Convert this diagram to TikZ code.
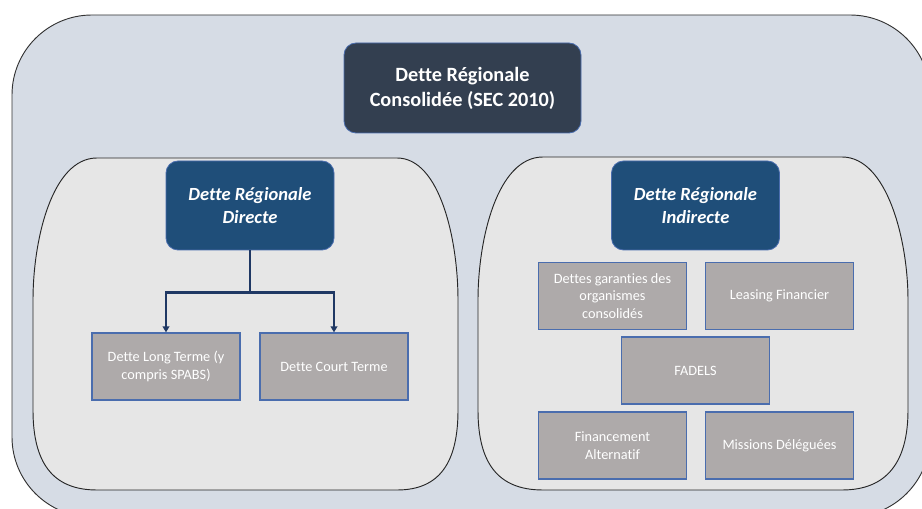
\documentclass[tikz,border=0pt]{standalone}
\usepackage{fontspec}
\setmainfont[Ligatures=NoCommon]{Carlito}
\usepackage{xcolor}
\usetikzlibrary{arrows.meta}

\definecolor{outerFill}{HTML}{D6DCE5}
\definecolor{panelFill}{HTML}{E6E6E6}
\definecolor{slate}{HTML}{333F50}
\definecolor{navy}{HTML}{1F4E79}
\definecolor{linkBlue}{HTML}{1F3864}
\definecolor{itemFill}{HTML}{AEAAAA}
\definecolor{itemLine}{HTML}{4A6DAE}

\begin{document}
\begin{tikzpicture}[x=0.75pt,y=0.75pt,yscale=-1,xscale=1,
  mainbox/.style={draw=itemLine,line width=0.6pt,fill=slate,rounded corners=9pt,
    minimum width=177.75pt,minimum height=67.5pt,align=center,text=white,
    font=\fontsize{15.2}{18.8}\selectfont\bfseries},
  headbox/.style={draw=itemLine,line width=0.6pt,fill=navy,rounded corners=9pt,
    minimum width=126pt,minimum height=66.75pt,align=center,text=white,
    font=\fontsize{13.9}{17}\selectfont\bfseries\itshape},
  itembox/.style={draw=itemLine,line width=0.9pt,fill=itemFill,
    minimum width=111pt,minimum height=50.25pt,align=center,text=white,
    font=\fontsize{10.7}{13.2}\selectfont},
  link/.style={draw=linkBlue,line width=1.7pt,-{Triangle[width=5pt,length=4.5pt]}}]

\useasboundingbox (0,0) rectangle (922,509);

% outer frame
\draw [fill=outerFill,draw=black!80,line width=0.7pt,rounded corners=60pt]
  (12,15) rectangle (930,517);

% left panel
\draw [fill=panelFill,draw=black!85,line width=0.7pt]
  (97,158) -- (397,158) .. controls (440,158) and (458,240) .. (458,300)
  -- (458,410) .. controls (458,462) and (440,490) .. (397,490)
  -- (97,490) .. controls (52,490) and (33,462) .. (33,410)
  -- (33,300) .. controls (33,240) and (52,158) .. (97,158) -- cycle;

% right panel
\draw [fill=panelFill,draw=black!85,line width=0.7pt]
  (543,157) -- (842,157) .. controls (887,157) and (908,240) .. (908,300)
  -- (908,410) .. controls (908,462) and (887,490) .. (842,490)
  -- (543,490) .. controls (497,490) and (478,462) .. (478,410)
  -- (478,300) .. controls (478,240) and (497,157) .. (543,157) -- cycle;

\node [mainbox] (consol) at (462.5,88) {Dette Régionale\\Consolidée (SEC 2010)};

\node [headbox] (direct) at (250,205.5) {Dette Régionale\\Directe};
\node [headbox] (indirect) at (695.5,205.5) {Dette Régionale\\Indirecte};

% direct debt
\node [itembox] (longTerm) at (166,366.5) {Dette Long Terme (y\\compris SPABS)};
\node [itembox] (shortTerm) at (334,366.5) {Dette Court Terme};

\draw [link] (direct.south) -- ++(0,42) -| (longTerm.north);
\draw [link] (direct.south) -- ++(0,42) -| (shortTerm.north);

% indirect debt
\node [itembox] (garanties) at (612.5,296) {Dettes garanties des\\organismes\\consolidés};
\node [itembox] (leasing) at (779.5,296) {Leasing Financier};
\node [itembox] (fadels) at (695.5,370.5) {FADELS};
\node [itembox] (alternatif) at (612.5,445.5) {Financement\\Alternatif};
\node [itembox] (missions) at (779.5,445.5) {Missions Déléguées};

\end{tikzpicture}
\end{document}
